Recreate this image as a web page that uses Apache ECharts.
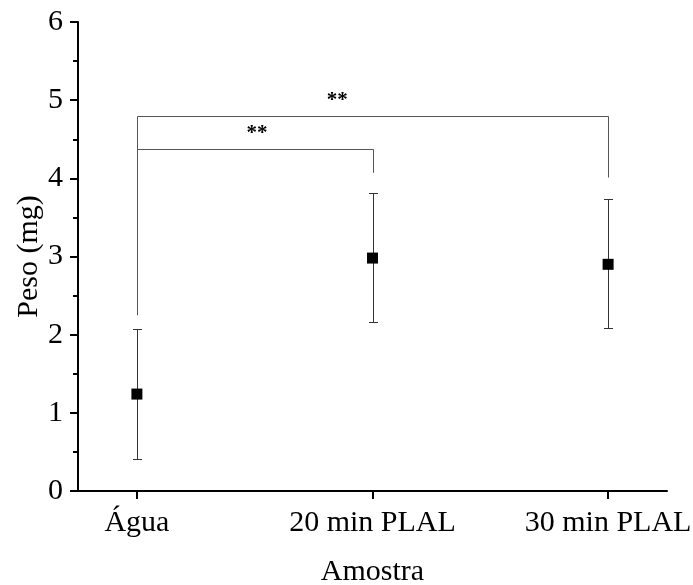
<!DOCTYPE html>
<html>
<head>
<meta charset="utf-8">
<script src="https://cdn.jsdelivr.net/npm/echarts@6/dist/echarts.min.js"></script>
<style>
html,body{margin:0;padding:0;background:#fff;}
#chart{width:693px;height:585px;}
</style>
</head>
<body>
<div id="chart"></div>
<script>
// ---- data ----
const categories = ['Água', '20 min PLAL', '30 min PLAL'];
const catPos = [1, 2, 3];
const means = [1.24, 2.98, 2.90];
const lowerErr = [0.41, 2.16, 2.08];
const upperErr = [2.07, 3.81, 3.73];
const yTicks = [0, 1, 2, 3, 4, 5, 6];

// significance brackets
const bracketLeft = [1, 1];
const bracketRight = [2, 3];
const bracketTop = [4.38, 4.80];
const bracketLeftBottom = [2.25, 2.25];
const bracketRightBottom = [4.07, 4.01];
const sigText = ['**', '**'];
const sigX = [1.51, 1.85];
const sigY = [4.57, 5.00];

const FONT = '"Liberation Serif", "Times New Roman", serif';

const chart = echarts.init(document.getElementById('chart'), null, {renderer: 'canvas'});

const errData = catPos.map((x, i) => [x, lowerErr[i], upperErr[i]]);
const scatterData = catPos.map((x, i) => [x, means[i]]);
const bracketData = bracketLeft.map((x, i) => [x, bracketRight[i], bracketTop[i], bracketLeftBottom[i], bracketRightBottom[i]]);
const sigData = sigX.map((x, i) => [x, sigY[i], sigText[i]]);

const option = {
  animation: false,
  backgroundColor: '#fff',
  grid: {left: 78, right: 26, top: 22, bottom: 94, containLabel: false, outerBoundsMode: 'none'},
  xAxis: {
    type: 'value',
    min: 0.75,
    max: 3.25,
    name: 'Amostra',
    nameLocation: 'middle',
    nameGap: 66,
    nameMoveOverlap: false,
    nameTextStyle: {fontFamily: FONT, fontSize: 30, color: '#000'},
    axisLine: {show: true, onZero: false, lineStyle: {color: '#000', width: 2}},
    axisTick: {show: true, inside: false, length: 8, customValues: catPos, lineStyle: {color: '#000', width: 2}},
    axisLabel: {
      show: true, customValues: catPos, margin: 17,
      fontFamily: FONT, fontSize: 30, color: '#000',
      formatter: v => categories[Math.round(v) - 1] || ''
    },
    splitLine: {show: false}
  },
  yAxis: {
    type: 'value',
    min: 0,
    max: 6,
    interval: 1,
    name: 'Peso (mg)',
    nameLocation: 'middle',
    nameGap: 34,
    nameMoveOverlap: false,
    nameTextStyle: {fontFamily: FONT, fontSize: 30, color: '#000'},
    axisLine: {show: true, lineStyle: {color: '#000', width: 2}},
    axisTick: {show: true, inside: false, length: 8, lineStyle: {color: '#000', width: 2}},
    minorTick: {show: true, splitNumber: 2, length: 5, lineStyle: {color: '#000', width: 2}},
    axisLabel: {
      margin: 15, fontFamily: FONT, fontSize: 30, color: '#000',
      formatter: v => (yTicks.indexOf(v) >= 0 ? String(v) : '')
    },
    splitLine: {show: false},
    minorSplitLine: {show: false}
  },
  series: [
    {
      type: 'custom',
      name: 'brackets',
      data: bracketData,
      z: 1,
      renderItem: function (params, api) {
        const x1 = api.value(0), x2 = api.value(1), yt = api.value(2), yb1 = api.value(3), yb2 = api.value(4);
        const p1 = api.coord([x1, yb1]);
        const p2 = api.coord([x1, yt]);
        const p3 = api.coord([x2, yt]);
        const p4 = api.coord([x2, yb2]);
        const r = v => Math.round(v) + 0.5;
        return {
          type: 'polyline',
          shape: {points: [[r(p1[0]), p1[1]], [r(p2[0]), r(p2[1])], [r(p3[0]), r(p3[1])], [r(p4[0]), p4[1]]]},
          style: {stroke: '#555', lineWidth: 1, fill: null}
        };
      }
    },
    {
      type: 'custom',
      name: 'sig',
      data: sigData,
      z: 2,
      renderItem: function (params, api) {
        const p = api.coord([api.value(0), api.value(1)]);
        return {
          type: 'text',
          x: p[0], y: p[1],
          style: {text: sigData[params.dataIndex][2], fontFamily: FONT, fontWeight: 'bold', fontSize: 21, fill: '#000', align: 'center', verticalAlign: 'middle'}
        };
      }
    },
    {
      type: 'custom',
      name: 'errorbars',
      data: errData,
      z: 3,
      renderItem: function (params, api) {
        const x = api.value(0);
        const lo = api.coord([x, api.value(1)]);
        const hi = api.coord([x, api.value(2)]);
        const cx = Math.round(lo[0]) + 0.5;
        const hw = 4.5;
        const st = {stroke: '#333', lineWidth: 1};
        return {
          type: 'group',
          children: [
            {type: 'line', shape: {x1: cx, y1: lo[1], x2: cx, y2: hi[1]}, style: st},
            {type: 'line', shape: {x1: cx - hw, y1: Math.round(lo[1]) + 0.5, x2: cx + hw, y2: Math.round(lo[1]) + 0.5}, style: st},
            {type: 'line', shape: {x1: cx - hw, y1: Math.round(hi[1]) + 0.5, x2: cx + hw, y2: Math.round(hi[1]) + 0.5}, style: st}
          ]
        };
      }
    },
    {
      type: 'scatter',
      name: 'mean',
      data: scatterData,
      symbol: 'rect',
      symbolSize: 11,
      itemStyle: {color: '#000', opacity: 1},
      z: 4
    }
  ]
};
chart.setOption(option);
</script>
</body>
</html>
